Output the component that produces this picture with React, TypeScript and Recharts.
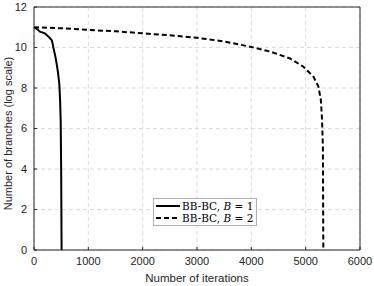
import { LineChart, Line, XAxis, YAxis, CartesianGrid, ReferenceLine } from 'recharts';

const iterB1 = [0, 60, 110, 200, 280, 330, 356, 390, 417, 445, 466, 480, 491, 500, 508];
const branchesB1 = [11, 10.9, 10.78, 10.7, 10.5, 10.35, 10.0, 9.6, 9.2, 8.7, 8.2, 7.4, 6.4, 4, 0];

const iterB2 = [0, 500, 1000, 1500, 2000, 2500, 3000, 3500, 3975, 4345, 4712, 4958, 5143, 5235, 5280, 5300, 5317, 5325];
const branchesB2 = [11, 10.95, 10.87, 10.8, 10.7, 10.6, 10.48, 10.3, 10.04, 9.8, 9.46, 9.05, 8.56, 8.07, 7.4, 6.5, 5.1, 0];

const xTicks = [0, 1000, 2000, 3000, 4000, 5000, 6000];
const yTicks = [0, 2, 4, 6, 8, 10, 12];

const seriesB1 = iterB1.map((x, i) => ({ x, y: branchesB1[i] }));
const seriesB2 = iterB2.map((x, i) => ({ x, y: branchesB2[i] }));

const axisColor = '#262626';
const tickStyle = { fontSize: 11, fill: axisColor, fontFamily: 'Liberation Sans, Arial, sans-serif' };

function LegendBox() {
  const row = (dash: string | undefined, b: string) => (
    <div style={{ display: 'flex', alignItems: 'center', height: 12 }}>
      <svg width={26} height={6} style={{ marginRight: 1 }}>
        <line x1={1} y1={3} x2={25} y2={3} stroke="#000" strokeWidth={2} strokeDasharray={dash} />
      </svg>
      <span>
        BB-BC, <i>B</i> = {b}
      </span>
    </div>
  );
  return (
    <div
      style={{
        position: 'absolute',
        left: 153,
        top: 198,
        background: '#fff',
        border: '1px solid #b0b0b0',
        padding: '1px 3px 1px 1px',
        fontFamily: 'DejaVu Serif, Liberation Serif, serif',
        fontSize: 10.5,
        color: '#000',
        lineHeight: '12px',
      }}
    >
      {row(undefined, '1')}
      {row('5 3', '2')}
    </div>
  );
}

export default function App() {
  return (
    <div style={{ position: 'absolute', left: 0, top: 0, width: 374, height: 286, background: '#fff' }}>
      <LineChart width={374} height={286} margin={{ top: 7, right: 14, bottom: 0, left: 0 }}>
        <CartesianGrid stroke="#dcdcdc" strokeDasharray="4 3" />
        <XAxis
          type="number"
          dataKey="x"
          domain={[0, 6000]}
          ticks={xTicks}
          height={36}
          stroke={axisColor}
          tick={tickStyle}
          tickSize={-3}
          tickMargin={10}
          allowDuplicatedCategory={false}
          label={{ value: 'Number of iterations', position: 'insideBottom', offset: 4, style: { ...tickStyle, fontSize: 11.5 } }}
        />
        <YAxis
          type="number"
          dataKey="y"
          domain={[0, 12]}
          ticks={yTicks}
          width={34}
          stroke={axisColor}
          tick={tickStyle}
          tickSize={-3}
          tickMargin={10}
          label={{ value: 'Number of branches (log scale)', angle: -90, position: 'center', dx: -9, dy: 5, style: { ...tickStyle, fontSize: 11 } }}
        />
        <ReferenceLine y={12} stroke={axisColor} />
        <ReferenceLine x={6000} stroke={axisColor} />
        <Line data={seriesB1} dataKey="y" stroke="#000" strokeWidth={2} dot={false} isAnimationActive={false} />
        <Line data={seriesB2} dataKey="y" stroke="#000" strokeWidth={2} strokeDasharray="5 3" dot={false} isAnimationActive={false} />
      </LineChart>
      <LegendBox />
    </div>
  );
}
